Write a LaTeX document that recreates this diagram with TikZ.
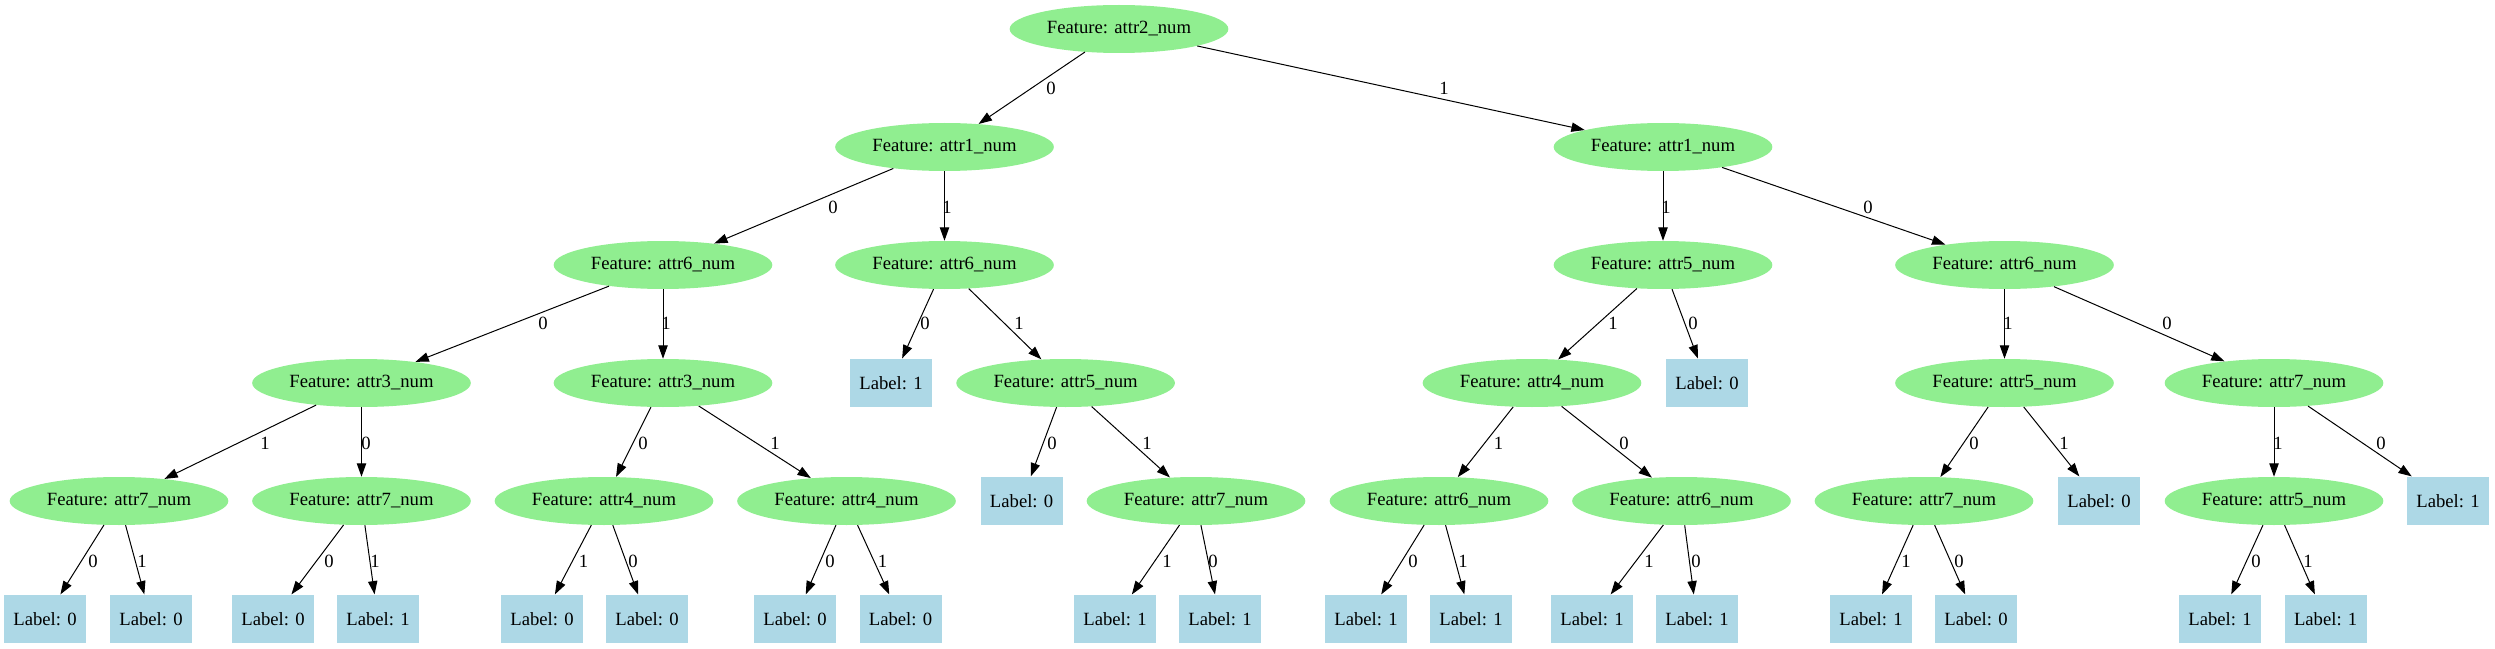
\documentclass[tikz,border=0pt]{standalone}
\usepackage{fontspec}
\setmainfont{Liberation Serif}
\usetikzlibrary{arrows.meta,shapes.geometric,positioning}
\definecolor{featgreen}{HTML}{90EE90}
\definecolor{leafblue}{HTML}{ADD8E6}

\begin{document}
\begin{tikzpicture}[
    x=0.75pt, y=-0.75pt, % 1 unit = 1 pixel of the reference
    % Node styles
    feature/.style={ellipse, fill=featgreen, inner sep=0pt, minimum width=164pt, minimum height=36pt, font=\fontsize{14}{16}\selectfont},
    leaf/.style={rectangle, fill=leafblue, inner sep=0pt, minimum width=61.5pt, minimum height=36.5pt, font=\fontsize{14}{16}\selectfont},
    % Edge styles
    branch/.style={-{Triangle[length=10pt,width=7pt]}, line width=0.75pt},
    elabel/.style={inner sep=0pt, font=\fontsize{14}{16}\selectfont}
]
\useasboundingbox (0,0) rectangle (2495,649);

% === LEVEL 0 ===
\node[feature] (r0) at (1119,29) {Feature: attr2\_num};

% === LEVEL 1 ===
\node[feature] (r1a) at (944.5,147) {Feature: attr1\_num};
\node[feature] (r1b) at (1663,147) {Feature: attr1\_num};

% === LEVEL 2 ===
\node[feature] (r2a) at (663,265) {Feature: attr6\_num};
\node[feature] (r2b) at (944.5,265) {Feature: attr6\_num};
\node[feature] (r2c) at (1663,265) {Feature: attr5\_num};
\node[feature] (r2d) at (2004.5,265) {Feature: attr6\_num};

% === LEVEL 3 ===
\node[feature] (r3a) at (361.5,383) {Feature: attr3\_num};
\node[feature] (r3b) at (663,383) {Feature: attr3\_num};
\node[leaf]    (r3c) at (891,383) {Label: 1};
\node[feature] (r3d) at (1065.6,383) {Feature: attr5\_num};
\node[feature] (r3e) at (1532,383) {Feature: attr4\_num};
\node[leaf]    (r3f) at (1707,383) {Label: 0};
\node[feature] (r3g) at (2004.5,383) {Feature: attr5\_num};
\node[feature] (r3h) at (2274,383) {Feature: attr7\_num};

% === LEVEL 4 ===
\node[feature] (r4a) at (119,501) {Feature: attr7\_num};
\node[feature] (r4b) at (361.5,501) {Feature: attr7\_num};
\node[feature] (r4c) at (604,501) {Feature: attr4\_num};
\node[feature] (r4d) at (846.5,501) {Feature: attr4\_num};
\node[leaf]    (r4e) at (1021.6,501) {Label: 0};
\node[feature] (r4f) at (1196,501) {Feature: attr7\_num};
\node[feature] (r4g) at (1439,501) {Feature: attr6\_num};
\node[feature] (r4h) at (1681.5,501) {Feature: attr6\_num};
\node[feature] (r4i) at (1924,501) {Feature: attr7\_num};
\node[leaf]    (r4j) at (2099,501) {Label: 0};
\node[feature] (r4k) at (2274,501) {Feature: attr5\_num};
\node[leaf]    (r4l) at (2448,501) {Label: 1};

% === LEVEL 5 (leaves) ===
\node[leaf] (r5a) at (45,619) {Label: 0};
\node[leaf] (r5b) at (151,619) {Label: 0};
\node[leaf] (r5c) at (273,619) {Label: 0};
\node[leaf] (r5d) at (378,619) {Label: 1};
\node[leaf] (r5e) at (542,619) {Label: 0};
\node[leaf] (r5f) at (647,619) {Label: 0};
\node[leaf] (r5g) at (795,619) {Label: 0};
\node[leaf] (r5h) at (900.5,619) {Label: 0};
\node[leaf] (r5i) at (1115,619) {Label: 1};
\node[leaf] (r5j) at (1220,619) {Label: 1};
\node[leaf] (r5k) at (1366,619) {Label: 1};
\node[leaf] (r5l) at (1471,619) {Label: 1};
\node[leaf] (r5m) at (1592,619) {Label: 1};
\node[leaf] (r5n) at (1697,619) {Label: 1};
\node[leaf] (r5o) at (1871,619) {Label: 1};
\node[leaf] (r5p) at (1976,619) {Label: 0};
\node[leaf] (r5q) at (2220,619) {Label: 1};
\node[leaf] (r5r) at (2325.6,619) {Label: 1};

% === EDGES ===
\draw[branch] (r0) -- (r1a) node[elabel] at (1051,88) {0};
\draw[branch] (r0) -- (r1b) node[elabel] at (1444,88) {1};

\draw[branch] (r1a) -- (r2a) node[elabel] at (833,207) {0};
\draw[branch] (r1a) -- (r2b) node[elabel] at (947,207) {1};
\draw[branch] (r1b) -- (r2c) node[elabel] at (1666,207) {1};
\draw[branch] (r1b) -- (r2d) node[elabel] at (1868,207) {0};

\draw[branch] (r2a) -- (r3a) node[elabel] at (543,323) {0};
\draw[branch] (r2a) -- (r3b) node[elabel] at (666,323) {1};
\draw[branch] (r2b) -- (r3c) node[elabel] at (925,323) {0};
\draw[branch] (r2b) -- (r3d) node[elabel] at (1019,323) {1};
\draw[branch] (r2c) -- (r3e) node[elabel] at (1613,323) {1};
\draw[branch] (r2c) -- (r3f) node[elabel] at (1693,323) {0};
\draw[branch] (r2d) -- (r3g) node[elabel] at (2008,323) {1};
\draw[branch] (r2d) -- (r3h) node[elabel] at (2167,323) {0};

\draw[branch] (r3a) -- (r4a) node[elabel] at (265,443) {1};
\draw[branch] (r3a) -- (r4b) node[elabel] at (366,443) {0};
\draw[branch] (r3b) -- (r4c) node[elabel] at (643,443) {0};
\draw[branch] (r3b) -- (r4d) node[elabel] at (775,443) {1};
\draw[branch] (r3d) -- (r4e) node[elabel] at (1052,443) {0};
\draw[branch] (r3d) -- (r4f) node[elabel] at (1147,443) {1};
\draw[branch] (r3e) -- (r4g) node[elabel] at (1498.5,443) {1};
\draw[branch] (r3e) -- (r4h) node[elabel] at (1624,443) {0};
\draw[branch] (r3g) -- (r4i) node[elabel] at (1974,443) {0};
\draw[branch] (r3g) -- (r4j) node[elabel] at (2064,443) {1};
\draw[branch] (r3h) -- (r4k) node[elabel] at (2278,443) {1};
\draw[branch] (r3h) -- (r4l) node[elabel] at (2381,443) {0};

\draw[branch] (r4a) -- (r5a) node[elabel] at (93,561) {0};
\draw[branch] (r4a) -- (r5b) node[elabel] at (142,561) {1};
\draw[branch] (r4b) -- (r5c) node[elabel] at (329,561) {0};
\draw[branch] (r4b) -- (r5d) node[elabel] at (375,561) {1};
\draw[branch] (r4c) -- (r5e) node[elabel] at (583.5,561) {1};
\draw[branch] (r4c) -- (r5f) node[elabel] at (633,561) {0};
\draw[branch] (r4d) -- (r5g) node[elabel] at (830,561) {0};
\draw[branch] (r4d) -- (r5h) node[elabel] at (882.5,561) {1};
\draw[branch] (r4f) -- (r5i) node[elabel] at (1167,561) {1};
\draw[branch] (r4f) -- (r5j) node[elabel] at (1213,561) {0};
\draw[branch] (r4g) -- (r5k) node[elabel] at (1413,561) {0};
\draw[branch] (r4g) -- (r5l) node[elabel] at (1463,561) {1};
\draw[branch] (r4h) -- (r5m) node[elabel] at (1649,561) {1};
\draw[branch] (r4h) -- (r5n) node[elabel] at (1696,561) {0};
\draw[branch] (r4i) -- (r5o) node[elabel] at (1906,561) {1};
\draw[branch] (r4i) -- (r5p) node[elabel] at (1959,561) {0};
\draw[branch] (r4k) -- (r5q) node[elabel] at (2256,561) {0};
\draw[branch] (r4k) -- (r5r) node[elabel] at (2308,561) {1};

\end{tikzpicture}
\end{document}
